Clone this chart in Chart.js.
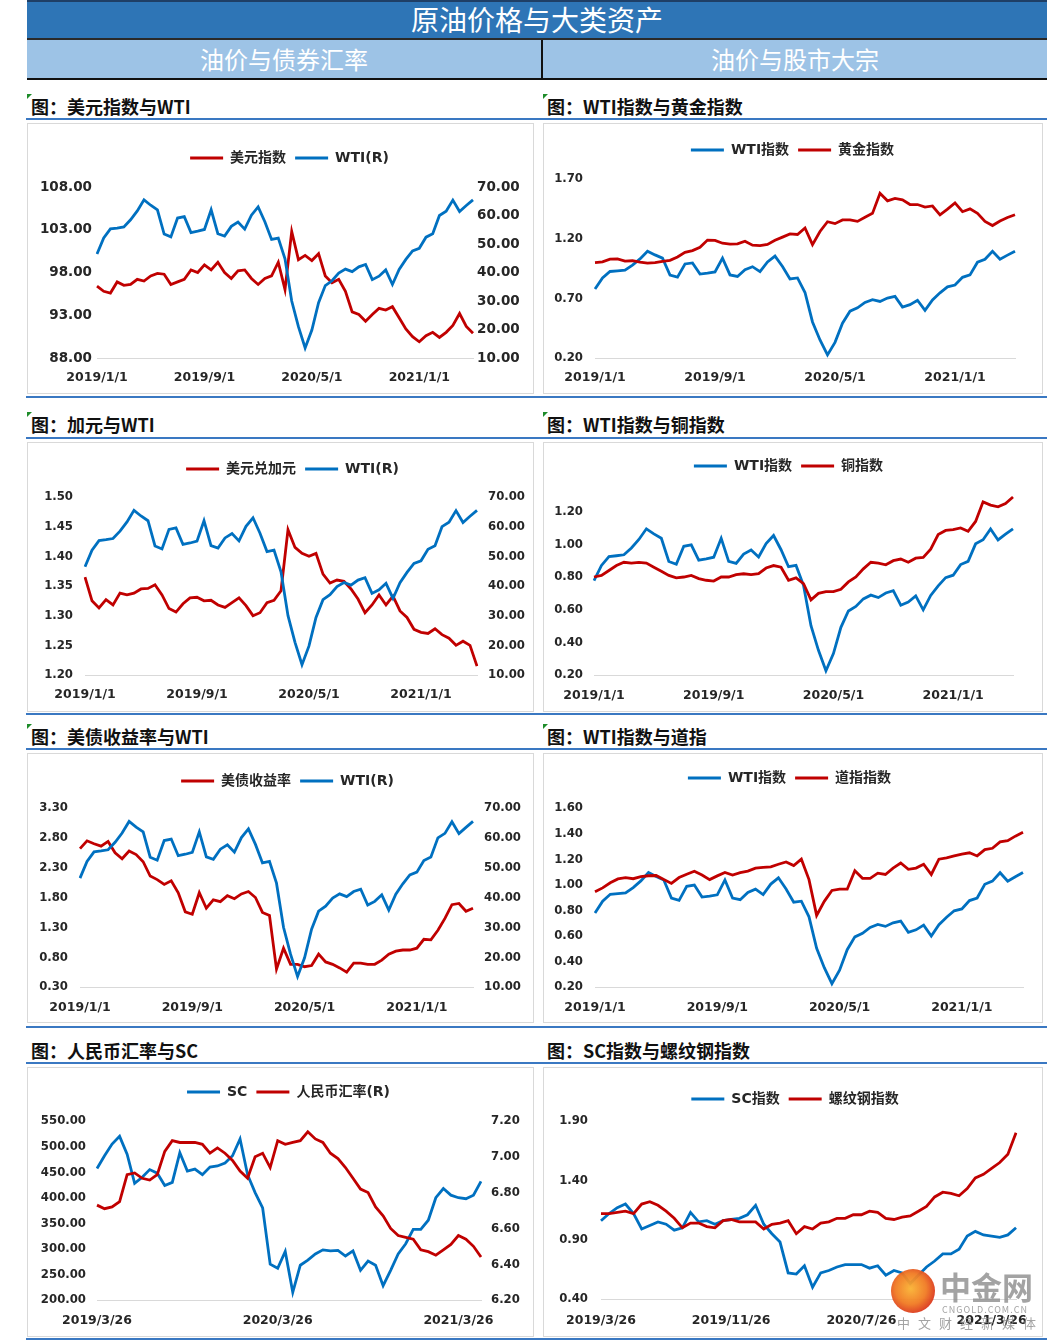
<!DOCTYPE html>
<html><head><meta charset="utf-8">
<script src="https://cdn.jsdelivr.net/npm/chart.js@4.4.0/dist/chart.umd.min.js"></script>
<style>
html,body{margin:0;padding:0;background:#fff;}
body{width:1047px;height:1342px;position:relative;overflow:hidden;font-family:"Noto Sans CJK SC","DejaVu Sans",sans-serif;}
.a{position:absolute;}
.hdr{left:27px;top:0;width:1020px;height:38px;background:#2E75B6;border-top:2px solid #1F3F66;box-sizing:border-box;color:#fff;font-size:28px;line-height:35px;text-align:center;}
.sub{top:40px;height:38px;background:#9DC3E6;color:#fff;font-size:24px;line-height:38px;text-align:center;}
.ttl{font-size:18px;font-weight:bold;color:#111;line-height:24px;white-space:nowrap;}
.bl{left:26px;width:1021px;height:2px;background:#3A78C2;}
.box{border:1px solid #D9D9D9;box-sizing:border-box;}
.tri{width:0;height:0;border-top:5px solid #1E8C2A;border-right:5px solid transparent;}
canvas{position:absolute;}
.wm{color:#8c8c8c;opacity:0.8;white-space:nowrap;}
</style></head>
<body>
<div class="a hdr">原油价格与大类资产</div>
<div class="a" style="left:27px;top:38px;width:1020px;height:2px;background:#2a2a2a;"></div>
<div class="a sub" style="left:27px;width:514px;">油价与债券汇率</div>
<div class="a sub" style="left:543px;width:504px;">油价与股市大宗</div>
<div class="a" style="left:541px;top:40px;width:2px;height:38px;background:#111;"></div>
<div class="a" style="left:27px;top:78px;width:1020px;height:2px;background:#111;"></div>

<div class="a tri" style="left:27px;top:94px;"></div>
<div class="a tri" style="left:543px;top:94px;"></div>
<div class="a tri" style="left:27px;top:412px;"></div>
<div class="a tri" style="left:543px;top:412px;"></div>
<div class="a tri" style="left:27px;top:724px;"></div>
<div class="a tri" style="left:543px;top:724px;"></div>

<div class="a ttl" style="left:31px;top:94px;">图：美元指数与WTI</div>
<div class="a ttl" style="left:547px;top:94px;">图：WTI指数与黄金指数</div>
<div class="a ttl" style="left:31px;top:412px;">图：加元与WTI</div>
<div class="a ttl" style="left:547px;top:412px;">图：WTI指数与铜指数</div>
<div class="a ttl" style="left:31px;top:724px;">图：美债收益率与WTI</div>
<div class="a ttl" style="left:547px;top:724px;">图：WTI指数与道指</div>
<div class="a ttl" style="left:31px;top:1038px;">图：人民币汇率与SC</div>
<div class="a ttl" style="left:547px;top:1038px;">图：SC指数与螺纹钢指数</div>

<div class="a bl" style="top:118px;"></div>
<div class="a bl" style="top:396px;"></div>
<div class="a bl" style="top:437px;"></div>
<div class="a bl" style="top:713px;"></div>
<div class="a bl" style="top:748px;"></div>
<div class="a bl" style="top:1026px;"></div>
<div class="a bl" style="top:1062px;"></div>
<div class="a bl" style="top:1338px;"></div>

<div class="a box" style="left:27px;top:123px;width:507px;height:271px;"></div>
<div class="a box" style="left:543px;top:123px;width:500px;height:271px;"></div>
<div class="a box" style="left:27px;top:442px;width:507px;height:270px;"></div>
<div class="a box" style="left:543px;top:442px;width:500px;height:270px;"></div>
<div class="a box" style="left:27px;top:753px;width:507px;height:270px;"></div>
<div class="a box" style="left:543px;top:753px;width:500px;height:270px;"></div>
<div class="a box" style="left:27px;top:1067px;width:507px;height:270px;"></div>
<div class="a box" style="left:543px;top:1067px;width:500px;height:270px;"></div>

<canvas id="c1" width="504" height="268" style="left:28px;top:125px;"></canvas>
<canvas id="c3" width="498" height="268" style="left:544px;top:125px;"></canvas>
<canvas id="c2" width="504" height="268" style="left:28px;top:443px;"></canvas>
<canvas id="c4" width="498" height="268" style="left:544px;top:443px;"></canvas>
<canvas id="c5" width="504" height="268" style="left:28px;top:754px;"></canvas>
<canvas id="c6" width="498" height="268" style="left:544px;top:754px;"></canvas>
<canvas id="c7" width="504" height="268" style="left:28px;top:1068px;"></canvas>
<canvas id="c8" width="498" height="268" style="left:544px;top:1068px;"></canvas>

<div class="a" style="left:891px;top:1269px;width:44px;height:44px;border-radius:50%;background:radial-gradient(circle at 45% 45%,#F9B233 0%,#F07A22 45%,#D9321C 75%);opacity:0.95;"></div>
<div class="a wm" style="left:940px;top:1268px;font-size:31px;font-weight:bold;line-height:36px;">中金网</div>
<div class="a wm" style="left:942px;top:1304px;font-size:9px;line-height:11px;letter-spacing:1px;">CNGOLD.COM.CN</div>
<div class="a wm" style="left:897px;top:1314px;font-size:13px;line-height:18px;letter-spacing:8px;">中文财经新媒体</div>

<script>
const DATES_A = ['2019/1/1','2019/1/15','2019/2/1','2019/2/15','2019/3/1','2019/3/15','2019/4/1','2019/4/15','2019/5/1','2019/5/15','2019/6/1','2019/6/15','2019/7/1','2019/7/15','2019/8/1','2019/8/15','2019/9/1','2019/9/15','2019/10/1','2019/10/15','2019/11/1','2019/11/15','2019/12/1','2019/12/15',
'2020/1/1','2020/1/15','2020/2/1','2020/2/15','2020/3/1','2020/3/15','2020/4/1','2020/4/15','2020/5/1','2020/5/15','2020/6/1','2020/6/15','2020/7/1','2020/7/15','2020/8/1','2020/8/15','2020/9/1','2020/9/15','2020/10/1','2020/10/15','2020/11/1','2020/11/15','2020/12/1','2020/12/15',
'2021/1/1','2021/1/15','2021/2/1','2021/2/15','2021/3/1','2021/3/15','2021/4/1','2021/4/15','2021/5/1'];
const DATES_B = ['2019/3/26','2019/4/11','2019/4/26','2019/5/11','2019/5/26','2019/6/11','2019/6/26','2019/7/11','2019/7/26','2019/8/11','2019/8/26','2019/9/11','2019/9/26','2019/10/11','2019/10/26','2019/11/11','2019/11/26','2019/12/11','2019/12/26',
'2020/1/11','2020/1/26','2020/2/11','2020/2/26','2020/3/11','2020/3/26','2020/4/11','2020/4/26','2020/5/11','2020/5/26','2020/6/11','2020/6/26','2020/7/11','2020/7/26','2020/8/11','2020/8/26','2020/9/11','2020/9/26','2020/10/11','2020/10/26','2020/11/11','2020/11/26','2020/12/11','2020/12/26',
'2021/1/11','2021/1/26','2021/2/11','2021/2/26','2021/3/11','2021/3/26','2021/4/11','2021/4/26','2021/5/11'];

const TICKS_A = ['2019/1/1','2019/9/1','2020/5/1','2021/1/1'];
const TICKS_SC = ['2019/3/26','2020/3/26','2021/3/26'];
const TICKS_SC_INDEX = ['2019/3/26','2019/11/26','2020/7/26','2021/3/26'];

const WTI = [46.5,52.1,55.3,55.6,56.0,58.5,61.6,65.5,63.6,62.0,53.5,52.5,59.1,59.6,54.0,54.5,55.1,62.0,53.6,52.8,56.2,57.7,55.2,60.1,63.0,57.8,51.6,52.1,44.8,30.0,21.0,13.5,19.8,29.4,35.4,37.1,39.8,41.2,40.3,42.0,42.8,37.5,38.7,40.9,35.8,41.1,44.6,47.6,48.5,52.4,53.6,60.0,61.5,65.4,61.4,63.5,65.5];
const WTI_INDEX = [0.778,0.871,0.925,0.930,0.936,0.978,1.030,1.095,1.064,1.037,0.895,0.878,0.988,0.997,0.903,0.911,0.921,1.037,0.896,0.883,0.940,0.965,0.923,1.005,1.054,0.967,0.863,0.871,0.749,0.502,0.351,0.226,0.331,0.492,0.592,0.620,0.666,0.689,0.674,0.702,0.716,0.627,0.647,0.684,0.599,0.687,0.746,0.796,0.811,0.876,0.896,1.003,1.028,1.094,1.027,1.062,1.095];
const USD_INDEX = [96.4,95.8,95.6,96.9,96.5,96.6,97.2,97.0,97.6,97.9,97.8,96.6,96.9,97.2,98.3,98.0,98.9,98.3,99.2,98.0,97.3,98.2,98.3,97.3,96.6,97.3,97.6,99.2,96.0,102.8,99.5,100.0,99.4,100.2,97.6,96.8,97.2,95.8,93.4,93.1,92.3,93.1,93.8,93.6,94.0,92.7,91.4,90.5,89.9,90.6,91.0,90.4,91.0,91.8,93.2,91.7,90.9];
const USD_CAD = [1.365,1.325,1.313,1.327,1.318,1.338,1.335,1.338,1.345,1.346,1.352,1.335,1.312,1.306,1.320,1.330,1.331,1.325,1.326,1.318,1.314,1.322,1.330,1.317,1.300,1.305,1.322,1.326,1.342,1.445,1.415,1.405,1.400,1.405,1.370,1.355,1.360,1.358,1.345,1.328,1.305,1.318,1.335,1.318,1.333,1.308,1.297,1.277,1.272,1.270,1.278,1.268,1.262,1.250,1.257,1.250,1.215];
const GOLD_INDEX = [1.000,1.005,1.028,1.031,1.012,1.015,1.004,0.995,1.000,1.010,1.018,1.046,1.085,1.100,1.127,1.188,1.186,1.162,1.154,1.156,1.178,1.145,1.142,1.152,1.186,1.213,1.240,1.235,1.290,1.150,1.260,1.342,1.326,1.357,1.357,1.345,1.380,1.412,1.580,1.517,1.537,1.525,1.486,1.486,1.465,1.474,1.400,1.447,1.500,1.426,1.450,1.412,1.345,1.310,1.348,1.377,1.400];
const COPPER_INDEX = [0.80,0.81,0.84,0.87,0.89,0.885,0.89,0.885,0.86,0.835,0.81,0.795,0.80,0.81,0.79,0.78,0.775,0.80,0.80,0.815,0.82,0.815,0.82,0.855,0.87,0.86,0.78,0.795,0.76,0.66,0.70,0.71,0.71,0.725,0.77,0.80,0.85,0.89,0.885,0.875,0.90,0.91,0.89,0.915,0.92,0.97,1.06,1.085,1.09,1.10,1.08,1.14,1.26,1.24,1.23,1.25,1.29];
const UST_YIELD = [2.62,2.75,2.70,2.66,2.74,2.55,2.45,2.58,2.52,2.40,2.16,2.10,2.02,2.08,1.88,1.56,1.52,1.88,1.62,1.76,1.73,1.83,1.78,1.86,1.90,1.80,1.55,1.50,0.60,0.95,0.68,0.68,0.64,0.66,0.85,0.72,0.68,0.62,0.55,0.70,0.70,0.68,0.68,0.75,0.85,0.90,0.92,0.92,0.95,1.10,1.09,1.25,1.45,1.68,1.70,1.57,1.62];
const DOW_INDEX = [0.945,0.975,1.015,1.045,1.055,1.047,1.063,1.070,1.072,1.040,1.010,1.056,1.082,1.105,1.076,1.040,1.069,1.096,1.076,1.094,1.107,1.130,1.136,1.140,1.160,1.178,1.150,1.200,1.040,0.760,0.870,0.955,0.965,0.965,1.110,1.050,1.050,1.090,1.080,1.130,1.170,1.120,1.130,1.160,1.080,1.200,1.210,1.225,1.240,1.250,1.225,1.275,1.285,1.335,1.345,1.380,1.410];

const SC = [457,482,505,520,485,428,440,455,448,424,430,488,452,456,445,460,462,468,482,515,445,410,380,270,262,295,215,268,278,290,298,296,297,286,296,258,276,268,228,258,290,310,338,338,356,400,418,405,400,398,405,432];
const CNY = [6.73,6.71,6.72,6.75,6.90,6.91,6.88,6.87,6.90,7.03,7.09,7.08,7.08,7.08,7.07,7.02,7.05,7.02,6.98,6.92,6.88,7.00,7.02,6.94,7.09,7.07,7.08,7.09,7.14,7.10,7.08,7.02,6.99,6.94,6.88,6.82,6.80,6.72,6.67,6.60,6.56,6.55,6.54,6.48,6.47,6.45,6.48,6.51,6.56,6.54,6.50,6.44];
const SC_INDEX = [1.06,1.12,1.17,1.20,1.12,0.99,1.02,1.05,1.03,0.98,1.00,1.13,1.05,1.06,1.03,1.06,1.07,1.08,1.11,1.19,1.03,0.95,0.88,0.62,0.61,0.68,0.50,0.62,0.64,0.67,0.69,0.69,0.69,0.66,0.68,0.60,0.64,0.62,0.53,0.60,0.67,0.72,0.78,0.78,0.82,0.93,0.97,0.94,0.93,0.92,0.94,1.00];
const REBAR_INDEX = [1.12,1.12,1.13,1.14,1.12,1.20,1.22,1.19,1.14,1.08,1.00,1.04,1.04,1.01,1.00,1.06,1.07,1.05,1.05,1.05,0.99,1.03,1.04,1.06,0.95,1.01,0.99,1.04,1.05,1.08,1.08,1.11,1.11,1.14,1.13,1.08,1.07,1.09,1.10,1.14,1.18,1.26,1.30,1.29,1.27,1.33,1.42,1.45,1.50,1.55,1.62,1.80];

const RED = '#C00000', BLUE = '#0070C0', TXT = '#262626';
const COND = '"DejaVu Sans Condensed","DejaVu Sans"';

function build(id, o) {
  const tickSet = new Set(o.xticks);
  const yFont = {family: o.yFamily || COND, size: o.yFont || 13, weight: 'bold'};
  const scales = {
    x: {
      type: 'category', offset: false,
      grid: {display: false, drawTicks: false},
      border: {display: true, color: '#D9D9D9', width: 1},
      ticks: {autoSkip: false, maxRotation: 0, minRotation: 0, padding: o.xPad, color: TXT,
              font: {family: '"DejaVu Sans"', size: 12.5, weight: 'bold'}},
      afterBuildTicks(s) { s.ticks = s.ticks.filter(t => tickSet.has(o.labels[t.value])); },
      afterFit(s) { s.height = o.xH; }
    },
    y: {
      type: 'linear', position: 'left', min: o.left.min, max: o.left.max,
      grid: {display: false, drawTicks: false}, border: {display: false},
      ticks: {stepSize: o.left.step, padding: o.left.pad, color: TXT, font: yFont,
              callback: v => Number(v).toFixed(2)},
      afterBuildTicks(s) { if (o.left.hideAbove) s.ticks = s.ticks.filter(t => t.value <= o.left.hideAbove + 1e-9); },
      afterFit(s) { s.width = o.left.w; }
    }
  };
  if (o.right) {
    scales.y2 = {
      type: 'linear', position: 'right', min: o.right.min, max: o.right.max,
      grid: {display: false, drawTicks: false}, border: {display: false},
      ticks: {stepSize: o.right.step, padding: o.right.pad, color: TXT, font: yFont,
              callback: v => Number(v).toFixed(2)},
      afterFit(s) { s.width = o.right.w; }
    };
  } else {
    scales.y2 = {
      type: 'linear', position: 'right', min: 0, max: 1,
      grid: {display: false, drawTicks: false}, border: {display: false},
      ticks: {display: false},
      afterFit(s) { s.width = o.rightW; }
    };
  }
  const n = o.series.length;
  const datasets = o.series.map((d, i) => ({
    label: d.label, data: d.data, borderColor: d.color, backgroundColor: d.color,
    borderWidth: 2.8, pointRadius: 0, tension: 0, yAxisID: d.axis || 'y', order: n - 1 - i
  }));
  const legendH = o.legendH, dx = o.legendDx || 0;
  new Chart(document.getElementById(id), {
    type: 'line',
    data: {labels: o.labels, datasets},
    options: {
      responsive: false, animation: false, events: [],
      layout: {padding: {left: 0, right: 0, top: o.padTop, bottom: 0}},
      plugins: {
        tooltip: {enabled: false},
        legend: {
          display: true, position: 'top', reverse: true,
          labels: {
            boxWidth: 33, boxHeight: 3, padding: 9, color: TXT,
            font: {family: '"DejaVu Sans","Noto Sans CJK SC"', size: 14, weight: 'bold'},
            generateLabels(chart) {
              const items = Chart.defaults.plugins.legend.labels.generateLabels(chart);
              items.forEach(it => { it.lineWidth = 0; it.fillStyle = it.strokeStyle; });
              return items;
            }
          }
        }
      },
      scales
    },
    plugins: [{
      id: 'legendPlace',
      beforeInit(chart) {
        const fit = chart.legend.fit;
        chart.legend.fit = function () { fit.call(this); this.height = legendH; };
      },
      afterLayout(chart) {
        chart.legend.left += dx;
        chart.legend.right += dx;
      }
    }]
  });
}

build('c1', {
  labels: DATES_A, xticks: TICKS_A,
  series: [{label: '美元指数', data: USD_INDEX, color: RED, axis: 'y'},
           {label: 'WTI(R)', data: WTI, color: BLUE, axis: 'y2'}],
  left: {min: 88, max: 108, step: 5, pad: 5, w: 69},
  right: {min: 10, max: 70, step: 10, pad: 4, w: 59},
  yFamily: '"DejaVu Sans"', yFont: 13.5,
  padTop: 17, legendDx: 9.5, legendH: 45, xH: 35, xPad: 12.5
});
build('c2', {
  labels: DATES_A, xticks: TICKS_A,
  series: [{label: '美元兑加元', data: USD_CAD, color: RED, axis: 'y'},
           {label: 'WTI(R)', data: WTI, color: BLUE, axis: 'y2'}],
  left: {min: 1.2, max: 1.5, step: 0.05, pad: 12, w: 57},
  right: {min: 10, max: 70, step: 10, pad: 11, w: 55},
  padTop: 10, legendDx: 12.5, legendH: 44, xH: 36, xPad: 12.5
});
build('c3', {
  labels: DATES_A, xticks: TICKS_A,
  series: [{label: 'WTI指数', data: WTI_INDEX, color: BLUE},
           {label: '黄金指数', data: GOLD_INDEX, color: RED}],
  left: {min: 0.2, max: 1.7, step: 0.5, pad: 12, w: 51},
  rightW: 27,
  padTop: 9, legendDx: -0.5, legendH: 45, xH: 35, xPad: 12.5
});
build('c4', {
  labels: DATES_A, xticks: TICKS_A,
  series: [{label: 'WTI指数', data: WTI_INDEX, color: BLUE},
           {label: '铜指数', data: COPPER_INDEX, color: RED}],
  left: {min: 0.2, max: 1.4, step: 0.2, pad: 11, w: 50, hideAbove: 1.2},
  rightW: 29,
  padTop: 7, legendDx: -4.5, legendH: 29, xH: 36, xPad: 13.5
});
build('c5', {
  labels: DATES_A, xticks: TICKS_A,
  series: [{label: '美债收益率', data: UST_YIELD, color: RED, axis: 'y'},
           {label: 'WTI(R)', data: WTI, color: BLUE, axis: 'y2'}],
  left: {min: 0.3, max: 3.3, step: 0.5, pad: 12, w: 52},
  right: {min: 10, max: 70, step: 10, pad: 11, w: 59},
  padTop: 11, legendDx: 7.5, legendH: 43, xH: 35, xPad: 13.5
});
build('c6', {
  labels: DATES_A, xticks: TICKS_A,
  series: [{label: 'WTI指数', data: WTI_INDEX, color: BLUE},
           {label: '道指指数', data: DOW_INDEX, color: RED}],
  left: {min: 0.2, max: 1.6, step: 0.2, pad: 12, w: 51},
  rightW: 19,
  padTop: 8, legendDx: -3.5, legendH: 46, xH: 35, xPad: 13.5
});
build('c7', {
  labels: DATES_B, xticks: TICKS_SC,
  series: [{label: 'SC', data: SC, color: BLUE, axis: 'y'},
           {label: '人民币汇率(R)', data: CNY, color: RED, axis: 'y2'}],
  left: {min: 200, max: 550, step: 50, pad: 11, w: 69},
  right: {min: 6.2, max: 7.2, step: 0.2, pad: 10, w: 51},
  padTop: 8, legendDx: 8.5, legendH: 45, xH: 36, xPad: 13.5
});
build('c8', {
  labels: DATES_B, xticks: TICKS_SC_INDEX,
  series: [{label: 'SC指数', data: SC_INDEX, color: BLUE},
           {label: '螺纹钢指数', data: REBAR_INDEX, color: RED}],
  left: {min: 0.4, max: 1.9, step: 0.5, pad: 13, w: 57},
  rightW: 15,
  padTop: 15, legendDx: 2, legendH: 38, xH: 37, xPad: 14.5
});
</script>
</body></html>
